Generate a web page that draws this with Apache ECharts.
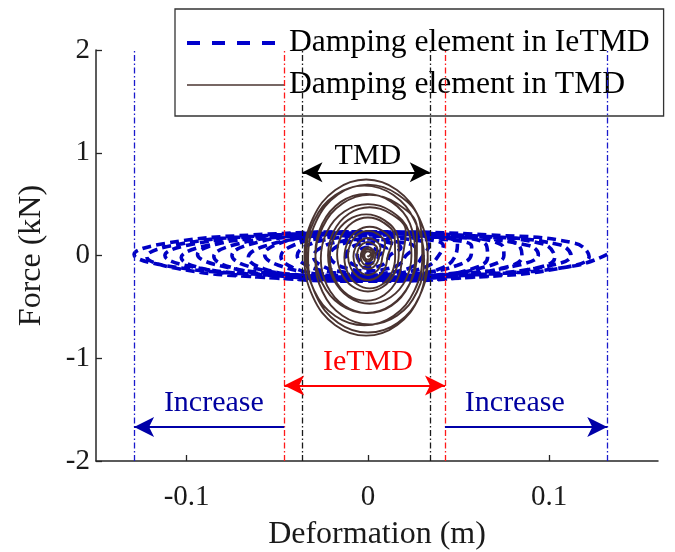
<!DOCTYPE html>
<html>
<head>
<meta charset="utf-8">
<script src="https://cdn.jsdelivr.net/npm/echarts@6/dist/echarts.min.js"></script>
<style>html,body{margin:0;padding:0;background:#fff;}#chart{width:675px;height:552px;}</style>
</head>
<body>
<div id="chart"></div>
<script>
// ---- Data ----
var seriesNames = ['Damping element in IeTMD', 'Damping element in TMD'];

// IeTMD damping element hysteresis (deformation m, force kN)
var ietmdX = [
 0.132,0.1141,0.0665,0.0015,-0.0635,-0.1111,-0.129,-0.1111,-0.0635,0.0015,0.0665,0.1141,
 0.122,0.1057,0.061,0,-0.061,-0.1057,-0.122,-0.1057,-0.061,0,0.061,0.1057,
 0.112,0.097,0.056,0,-0.056,-0.097,-0.112,-0.097,-0.056,0,0.056,0.097,
 0.103,0.0892,0.0515,0,-0.0515,-0.0892,-0.103,-0.0892,-0.0515,0,0.0515,0.0892,
 0.094,0.0814,0.047,0,-0.047,-0.0814,-0.094,-0.0814,-0.047,0,0.047,0.0814,
 0.085,0.0736,0.0425,0,-0.0425,-0.0736,-0.085,-0.0736,-0.0425,0,0.0425,0.0736,
 0.075,0.065,0.0375,0,-0.0375,-0.065,-0.075,-0.065,-0.0375,0,0.0375,0.065,
 0.066,0.0572,0.033,0,-0.033,-0.0572,-0.066,-0.0572,-0.033,0,0.033,0.0572,
 0.057,0.0494,0.0285,0,-0.0285,-0.0494,-0.057,-0.0494,-0.0285,0,0.0285,0.0494,
 0.048,0.0416,0.024,0,-0.024,-0.0416,-0.048,-0.0416,-0.024,0,0.024,0.0416,
 0.039,0.0338,0.0195,0,-0.0195,-0.0338,-0.039,-0.0338,-0.0195,0,0.0195,0.0338,
 0.030,0.026,0.015,0,-0.015,-0.026,-0.030,-0.026,-0.015,0,0.015,0.026,
 0.021,0.0182,0.0105,0,-0.0105,-0.0182,-0.021,-0.0182,-0.0105,0,0.0105,0.0182,
 0.012,0.0104,0.006,0,-0.006,-0.0104,-0.012,-0.0104,-0.006,0,0.006,0.0104,
 0.006,0.0052,0.003,0,-0.003,-0.0052,-0.006,-0.0052,-0.003,0,0.003,0.0052,0.003
];
var ietmdY = [
 0.01,-0.10,-0.18,-0.21,-0.18,-0.10,0.01,0.12,0.20,0.23,0.20,0.12,
 -0.01,-0.125,-0.209,-0.24,-0.209,-0.125,-0.01,0.105,0.189,0.22,0.189,0.105,
 0,-0.11,-0.19,-0.22,-0.19,-0.11,0,0.11,0.19,0.22,0.19,0.11,
 -0.02,-0.135,-0.219,-0.25,-0.219,-0.135,-0.02,0.095,0.179,0.21,0.179,0.095,
 0.01,-0.10,-0.18,-0.21,-0.18,-0.10,0.01,0.12,0.20,0.23,0.20,0.12,
 -0.01,-0.125,-0.209,-0.24,-0.209,-0.125,-0.01,0.105,0.189,0.22,0.189,0.105,
 0,-0.11,-0.19,-0.22,-0.19,-0.11,0,0.11,0.19,0.22,0.19,0.11,
 -0.02,-0.13,-0.21,-0.24,-0.21,-0.13,-0.02,0.09,0.17,0.20,0.17,0.09,
 0.01,-0.095,-0.172,-0.20,-0.172,-0.095,0.01,0.115,0.192,0.22,0.192,0.115,
 -0.01,-0.115,-0.192,-0.22,-0.192,-0.115,-0.01,0.095,0.172,0.20,0.172,0.095,
 0,-0.095,-0.165,-0.19,-0.165,-0.095,0,0.095,0.165,0.19,0.165,0.095,
 -0.01,-0.095,-0.157,-0.18,-0.157,-0.095,-0.01,0.075,0.137,0.16,0.137,0.075,
 0,-0.075,-0.13,-0.15,-0.13,-0.075,0,0.075,0.13,0.15,0.13,0.075,
 0,-0.06,-0.104,-0.12,-0.104,-0.06,0,0.06,0.104,0.12,0.104,0.06,
 0,-0.04,-0.069,-0.08,-0.069,-0.04,0,0.04,0.069,0.08,0.069,0.04,0
];

// TMD damping element hysteresis (deformation m, force kN)
var tmdX = [
 0.033,0.0284,0.016,-0.001,-0.018,-0.0304,-0.035,-0.0304,-0.018,-0.001,0.016,0.0284,
 0.033,0.0286,0.0165,0,-0.0165,-0.0286,-0.033,-0.0286,-0.0165,0,0.0165,0.0286,
 0.030,0.0257,0.014,-0.002,-0.018,-0.0297,-0.034,-0.0297,-0.018,-0.002,0.014,0.0257,
 0.031,0.027,0.016,0.001,-0.014,-0.025,-0.029,-0.025,-0.014,0.001,0.016,0.027,
 0.027,0.0232,0.013,-0.001,-0.015,-0.0252,-0.029,-0.0252,-0.015,-0.001,0.013,0.0232,
 0.026,0.0225,0.013,0,-0.013,-0.0225,-0.026,-0.0225,-0.013,0,0.013,0.0225,
 0.024,0.0209,0.0125,0.001,-0.0105,-0.0189,-0.022,-0.0189,-0.0105,0.001,0.0125,0.0209,
 0.019,0.0163,0.009,-0.001,-0.011,-0.0183,-0.021,-0.0183,-0.011,-0.001,0.009,0.0163,
 0.017,0.0147,0.0085,0,-0.0085,-0.0147,-0.017,-0.0147,-0.0085,0,0.0085,0.0147,
 0.015,0.0131,0.008,0.001,-0.006,-0.0111,-0.013,-0.0111,-0.006,0.001,0.008,0.0131,
 0.011,0.0095,0.0055,0,-0.0055,-0.0095,-0.011,-0.0095,-0.0055,0,0.0055,0.0095,
 0.008,0.0069,0.004,0,-0.004,-0.0069,-0.008,-0.0069,-0.004,0,0.004,0.0069,
 0.006,0.0052,0.003,0,-0.003,-0.0052,-0.006,-0.0052,-0.003,0,0.003,0.0052,
 0.004,0.0035,0.002,0,-0.002,-0.0035,-0.004,-0.0035,-0.002,0,0.002,0.0035,
 0.003,0.0026,0.0015,0,-0.0015,-0.0026,-0.003,-0.0026,-0.0015,0,0.0015,0.0026,
 0.002,0.0017,0.001,0,-0.001,-0.0017,-0.002,-0.0017,-0.001,0,0.001,0.0017,
 0.001,0,0
];
var tmdY = [
 -0.02,-0.40,-0.678,-0.78,-0.678,-0.40,-0.02,0.36,0.638,0.74,0.638,0.36,
 -0.03,-0.39,-0.654,-0.75,-0.654,-0.39,-0.03,0.33,0.594,0.69,0.594,0.33,
 0,-0.34,-0.589,-0.68,-0.589,-0.34,0,0.34,0.589,0.68,0.589,0.34,
 -0.04,-0.355,-0.586,-0.67,-0.586,-0.355,-0.04,0.275,0.506,0.59,0.506,0.275,
 0.02,-0.27,-0.482,-0.56,-0.482,-0.27,0.02,0.31,0.522,0.60,0.522,0.31,
 -0.03,-0.295,-0.489,-0.56,-0.489,-0.295,-0.03,0.235,0.429,0.50,0.429,0.235,
 0,-0.235,-0.407,-0.47,-0.407,-0.235,0,0.235,0.407,0.47,0.407,0.235,
 -0.02,-0.23,-0.384,-0.44,-0.384,-0.23,-0.02,0.19,0.344,0.40,0.344,0.19,
 0.01,-0.17,-0.302,-0.35,-0.302,-0.17,0.01,0.19,0.322,0.37,0.322,0.19,
 -0.02,-0.17,-0.28,-0.32,-0.28,-0.17,-0.02,0.13,0.24,0.28,0.24,0.13,
 0,-0.12,-0.208,-0.24,-0.208,-0.12,0,0.12,0.208,0.24,0.208,0.12,
 -0.01,-0.10,-0.166,-0.19,-0.166,-0.10,-0.01,0.08,0.146,0.17,0.146,0.08,
 0,-0.065,-0.113,-0.13,-0.113,-0.065,0,0.065,0.113,0.13,0.113,0.065,
 -0.01,-0.055,-0.088,-0.10,-0.088,-0.055,-0.01,0.035,0.068,0.08,0.068,0.035,
 0,-0.03,-0.052,-0.06,-0.052,-0.03,0,0.03,0.052,0.06,0.052,0.03,
 0,-0.02,-0.035,-0.04,-0.035,-0.02,0,0.02,0.035,0.04,0.035,0.02,
 0,-0.01,0
];

// Axis ticks
var xTicks = [-0.1, 0, 0.1];
var xTickLabels = ['-0.1', '0', '0.1'];
var yTicks = [-2, -1, 0, 1, 2];

// Vertical dash-dot guide lines (deformation, m)
var guideX = [-0.129, -0.0462, -0.0361, 0.0341, 0.0425, 0.132];
var guideColor = ['#1a1acc', '#ff1a1a', '#1a1a1a', '#1a1a1a', '#ff1a1a', '#1a1acc'];

// Arrows
var arrowX1 = [-0.0361, -0.0462, -0.0462, 0.0425];
var arrowX2 = [0.0341, 0.0425, -0.129, 0.132];
var arrowY = [0.81, -1.265, -1.67, -1.67];
var arrowStart = ['arrow', 'arrow', 'none', 'none'];
var arrowColor = ['#000000', '#ff0000', '#0000a8', '#0000a8'];

// Annotation texts
var annText = ['TMD', 'IeTMD', 'Increase', 'Increase'];
var annX = [0, 0, -0.085, 0.081];
var annY = [0.97, -1.04, -1.44, -1.44];
var annColor = ['#000000', '#ff0000', '#0000a0', '#0000a0'];

// ---- Build ----
function pairs(xs, ys) { var o = []; for (var i = 0; i < xs.length; i++) o.push([xs[i], ys[i]]); return o; }
var FONT = "'Liberation Serif', 'Times New Roman', serif";

var markData = [];
guideX.forEach(function (x, i) {
  markData.push([
    { coord: [x, -2], symbol: 'none', lineStyle: { color: guideColor[i], width: 1.3, type: [6, 2.5, 1.5, 2.5] } },
    { coord: [x, 2], symbol: 'none' }
  ]);
});
arrowX1.forEach(function (x, i) {
  markData.push([
    { coord: [x, arrowY[i]], symbol: arrowStart[i], lineStyle: { color: arrowColor[i], width: 2.2, type: 'solid' }, itemStyle: { color: arrowColor[i] } },
    { coord: [arrowX2[i], arrowY[i]], symbol: 'arrow', itemStyle: { color: arrowColor[i] } }
  ]);
});

var annData = annText.map(function (t, i) {
  return { value: [annX[i], annY[i]], name: t, label: { color: annColor[i] } };
});

var hiddenSymbol = { color: 'rgba(0,0,0,0)', borderWidth: 0, opacity: 0 };

var chart = echarts.init(document.getElementById('chart'), null, { renderer: 'canvas' });
chart.setOption({
  animation: false,
  backgroundColor: '#ffffff',
  textStyle: { fontFamily: FONT },
  grid: { left: 96, right: 17, top: 50, bottom: 91, containLabel: false, outerBoundsMode: 'none' },
  xAxis: {
    type: 'value', min: -0.15, max: 0.16,
    name: 'Deformation (m)', nameLocation: 'middle', nameGap: 58,
    nameTextStyle: { fontFamily: FONT, fontSize: 32, color: '#1a1a1a' },
    axisLine: { show: true, onZero: false, lineStyle: { color: '#262626', width: 1.5 } },
    axisTick: { show: true, inside: true, length: 6, customValues: xTicks, lineStyle: { color: '#262626', width: 1.3 } },
    axisLabel: { customValues: xTicks, margin: 22, fontFamily: FONT, fontSize: 29, color: '#1a1a1a',
      formatter: function (v) { var k = xTicks.indexOf(v); return k >= 0 ? xTickLabels[k] : ''; } },
    splitLine: { show: false }
  },
  yAxis: {
    type: 'value', min: -2, max: 2, interval: 1,
    name: 'Force (kN)', nameLocation: 'middle', nameGap: 48, nameRotate: 90,
    nameTextStyle: { fontFamily: FONT, fontSize: 32, color: '#1a1a1a' },
    axisLine: { show: true, onZero: false, lineStyle: { color: '#262626', width: 1.5 } },
    axisTick: { show: true, inside: true, length: 6, lineStyle: { color: '#262626', width: 1.3 } },
    axisLabel: { margin: 6, fontFamily: FONT, fontSize: 29, color: '#1a1a1a',
      formatter: function (v) { return yTicks.indexOf(v) >= 0 ? String(v) : ''; } },
    splitLine: { show: false }
  },
  legend: {
    orient: 'vertical', left: 175, top: 9,
    padding: [18, 14, 15, 10], itemGap: 10, itemWidth: 97, itemHeight: 28,
    backgroundColor: '#ffffff', borderColor: '#333333', borderWidth: 1.3,
    textStyle: { fontFamily: FONT, fontSize: 31.6, color: '#000000' },
    data: [
      { name: seriesNames[0], itemStyle: hiddenSymbol, lineStyle: { color: '#0000cc', width: 4, type: [13, 12] } },
      { name: seriesNames[1], itemStyle: hiddenSymbol, lineStyle: { color: '#4a3431', width: 1.6, type: 'solid' } }
    ]
  },
  series: [
    {
      name: seriesNames[0], type: 'line', data: pairs(ietmdX, ietmdY),
      smooth: 0.45, symbol: 'none', showSymbol: false, z: 2,
      lineStyle: { color: '#0000c4', width: 3.6, type: [9, 5] }, itemStyle: { color: '#0000c4' }
    },
    {
      name: seriesNames[1], type: 'line', data: pairs(tmdX, tmdY),
      smooth: 0.4, symbol: 'none', showSymbol: false, z: 3,
      lineStyle: { color: '#4a3431', width: 1.9 }, itemStyle: { color: '#4a3431' }
    },
    {
      name: 'annotations', type: 'scatter', data: annData, symbolSize: 0, z: 5, silent: true,
      itemStyle: { opacity: 1 },
      label: { show: true, position: 'inside', fontFamily: FONT, fontSize: 30, textBorderWidth: 0, textBorderColor: 'transparent',
        opacity: 1, formatter: function (p) { return p.name; } },
      markLine: {
        silent: true, animation: false, symbolSize: [15, 20],
        label: { show: false }, data: markData
      }
    }
  ]
});
</script>
</body>
</html>
